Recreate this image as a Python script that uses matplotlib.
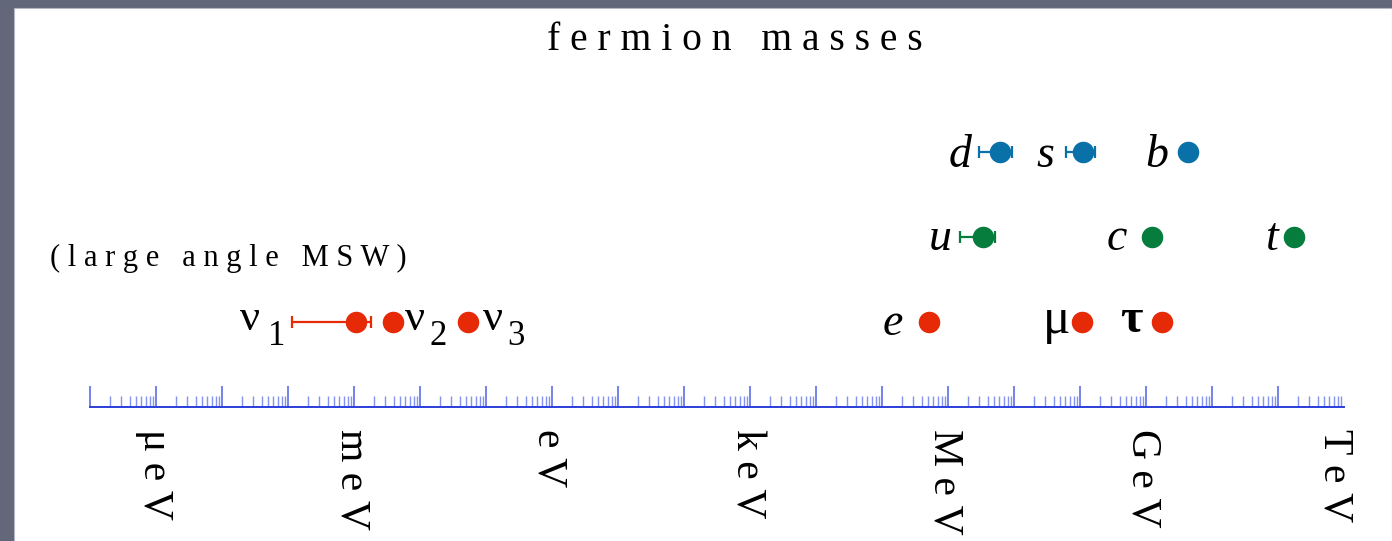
import numpy as np
import matplotlib
matplotlib.use("Agg")
import matplotlib.pyplot as plt
from matplotlib.patches import Rectangle
from matplotlib.ticker import FixedLocator, LogLocator, NullFormatter

# ---- data (masses in eV) ----
lepton_names = ["e", "μ", "τ"]
lepton_mass = [0.511e6, 105.7e6, 1.777e9]

up_names = ["u", "c", "t"]
up_mass = [3.4e6, 1.23e9, 1.74e11]
up_err_lo = [1.5e6, None, None]
up_err_hi = [5.1e6, None, None]

down_names = ["d", "s", "b"]
down_mass = [6.1e6, 1.1e8, 4.3e9]
down_err_lo = [3.0e6, 6.1e7, None]
down_err_hi = [9.3e6, 1.7e8, None]

nu_names = ["1", "2", "3"]
nu_mass = [1.07e-3, 3.9e-3, 5.3e-2]
nu_err_lo = [1.15e-4, None, None]
nu_err_hi = [1.8e-3, None, None]

unit_labels = ["μeV", "meV", "eV", "keV", "MeV", "GeV", "TeV"]
unit_values = [1e-6, 1e-3, 1e0, 1e3, 1e6, 1e9, 1e12]

# ---- styling ----
RED = "#e62a07"
GREEN = "#077d3d"
BLUE = "#0a70a8"
SERIF = ["Liberation Serif", "DejaVu Serif"]
W, H = 1392, 541

fig = plt.figure(figsize=(W / 100, H / 100), dpi=100)
fig.patch.set_facecolor("#62677a")
fig.patches.append(Rectangle((14 / W, 0), 1 - 14 / W, (H - 8) / H,
                             transform=fig.transFigure, facecolor="white",
                             edgecolor="#b5b8c2", linewidth=0.8, zorder=-10))

ax = fig.add_axes([90 / W, (H - 407) / H, 1254 / W, 407 / H])
ax.set_zorder(5)
ax.patch.set_alpha(0)
ax.set_xscale("log")
ax.set_xlim(1e-7, 1e12)
ax.set_ylim(0, 407 / 85)
for side in ("top", "left", "right"):
    ax.spines[side].set_visible(False)
ax.spines["bottom"].set_color("#2b3fdc")
ax.spines["bottom"].set_linewidth(1.4)
ax.set_yticks([])
ax.xaxis.set_major_locator(FixedLocator(10.0 ** np.arange(-7, 12)))
ax.xaxis.set_minor_locator(LogLocator(base=10, subs=np.arange(2, 10), numticks=100))
ax.xaxis.set_minor_formatter(NullFormatter())
ax.tick_params(axis="x", which="major", direction="in", length=15, width=1.2,
               color="#5d6de6", labelbottom=False)
ax.tick_params(axis="x", which="minor", direction="in", length=8, width=1.0,
               color="#8393ee")

ROW_LEPTON, ROW_UP, ROW_DOWN = 1, 2, 3
MS = 15.5


def draw_points(masses, lo, hi, row, color):
    for m, l, h in zip(masses, lo, hi):
        if l is not None:
            ax.errorbar([m], [row], xerr=[[m - l], [h - m]], fmt="none",
                        ecolor=color, elinewidth=1.6, capsize=4.5, capthick=1.6,
                        zorder=2, clip_on=False)
        ax.plot([m], [row], "o", color=color, ms=MS, mew=0, zorder=3, clip_on=False)


draw_points(lepton_mass, [None] * 3, [None] * 3, ROW_LEPTON, RED)
draw_points(up_mass, up_err_lo, up_err_hi, ROW_UP, GREEN)
draw_points(down_mass, down_err_lo, down_err_hi, ROW_DOWN, BLUE)
draw_points(nu_mass, nu_err_lo, nu_err_hi, ROW_LEPTON, RED)


def label(m, row, text, dx, dy, size=33, style="italic", weight="normal"):
    ax.annotate(text, xy=(m, row), xytext=(dx, dy), textcoords="offset pixels",
                ha="right", va="baseline", fontsize=size, family=SERIF,
                style=style, weight=weight)


# quark labels (italic, left of the marker)
for name, m, dx in zip(down_names, down_mass, [-28, -28, -20]):
    label(m, ROW_DOWN, name, dx, -15)
for name, m, dx in zip(up_names, up_mass, [-31, -25, -15]):
    label(m, ROW_UP, name, dx, -13)

# charged leptons
label(lepton_mass[0], ROW_LEPTON, lepton_names[0], -26, -13)
label(lepton_mass[1], ROW_LEPTON, lepton_names[1], -11, -11, size=37, style="normal")
label(lepton_mass[2], ROW_LEPTON, lepton_names[2], -20, -10, size=35, style="normal",
      weight="bold")

# neutrino labels: nu with a subscript index
nu_offsets = [(-116, -88), (12, 36), (15, 39)]
for name, m, (dnu, dsub) in zip(nu_names, nu_mass, nu_offsets):
    ax.annotate("ν", xy=(m, ROW_LEPTON), xytext=(dnu, -8), textcoords="offset pixels",
                ha="left", va="baseline", fontsize=32, family=SERIF)
    ax.annotate(name, xy=(m, ROW_LEPTON), xytext=(dsub, -23), textcoords="offset pixels",
                ha="left", va="baseline", fontsize=25, family=SERIF)

# energy units under the axis
unit_dx = [-2, -2, -3, -3, -3, -3, -9]
for lab, v, dx in zip(unit_labels, unit_values, unit_dx):
    ax.annotate(" ".join(lab), xy=(v, 0), xycoords=("data", "axes fraction"),
                xytext=(dx, -22), textcoords="offset pixels", rotation=-90,
                ha="center", va="top", fontsize=30, family=SERIF,
                annotation_clip=False)

fig.text(735 / W, 1 - 41 / H, "   ".join(" ".join(w) for w in "fermion masses".split()),
         ha="center", va="center", fontsize=28.5, family=SERIF)
fig.text(50 / W, 1 - 258 / H, "   ".join(" ".join(w) for w in "(large angle MSW)".split()),
         ha="left", va="center", fontsize=22, family=SERIF)

fig.savefig("out.png", dpi=100, facecolor=fig.get_facecolor())
